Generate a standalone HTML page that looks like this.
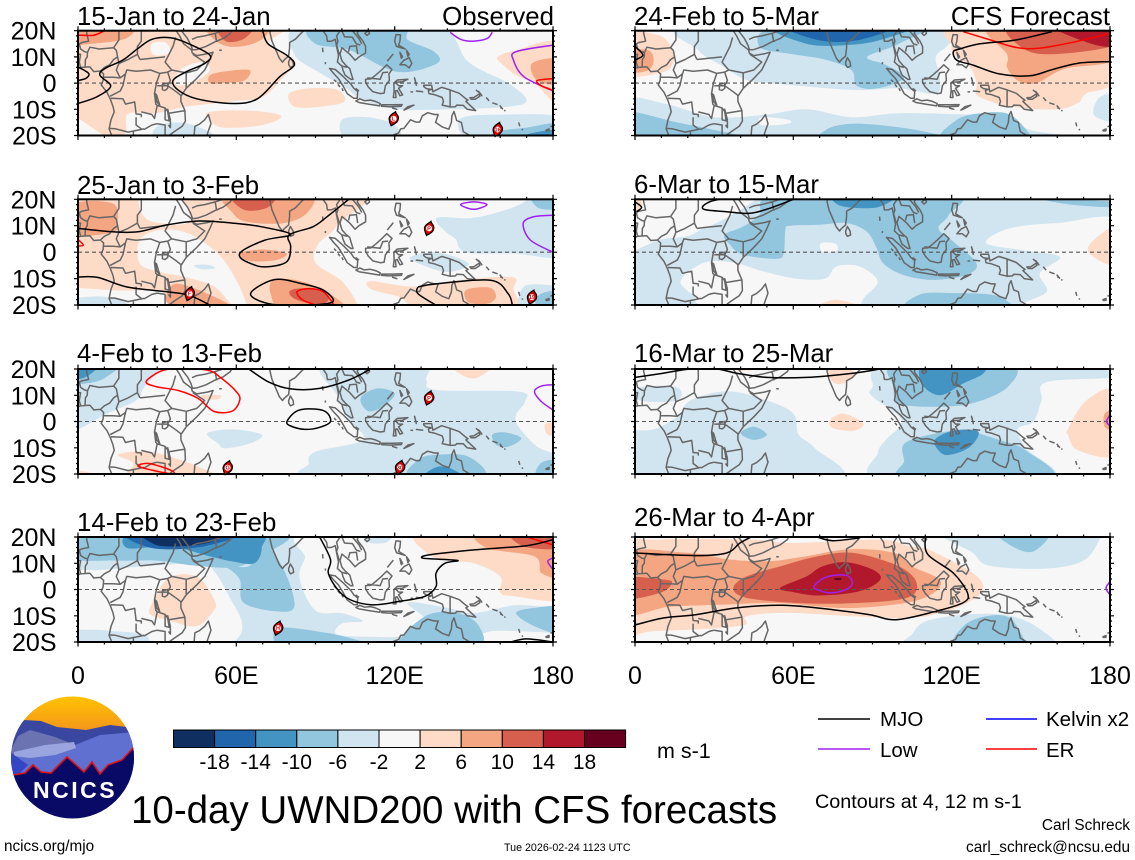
<!DOCTYPE html>
<html lang="en">
<head>
<meta charset="utf-8">
<title>10-day UWND200 with CFS forecasts</title>
<style>
html,body{margin:0;padding:0;background:#fff;}
svg{display:block;font-family:"Liberation Sans",sans-serif;}
</style>
</head>
<body>
<svg id="chart" xmlns="http://www.w3.org/2000/svg" width="1135" height="860" viewBox="0 0 1135 860">
  <rect width="1135" height="860" fill="#fff"/>
  <defs id="defs"></defs>
  <g id="panels"></g>
  <g font-size="25.8" fill="#000">
    <text x="77" y="25">15-Jan to 24-Jan</text>
    <text x="554" y="25" text-anchor="end">Observed</text>
    <text x="77" y="194">25-Jan to 3-Feb</text>
    <text x="77" y="362">4-Feb to 13-Feb</text>
    <text x="77" y="531">14-Feb to 23-Feb</text>
    <text x="634" y="25">24-Feb to 5-Mar</text>
    <text x="1110" y="25" text-anchor="end">CFS Forecast</text>
    <text x="634" y="193">6-Mar to 15-Mar</text>
    <text x="634" y="362">16-Mar to 25-Mar</text>
    <text x="634" y="526">26-Mar to 4-Apr</text>
  </g>

  <g>
    <defs>
      <clipPath id="logoClip"><ellipse cx="72.5" cy="757.5" rx="61.5" ry="61"/></clipPath>
      <linearGradient id="sky" x1="0" y1="0" x2="0" y2="1"><stop offset="0" stop-color="#ffc400"/><stop offset="1" stop-color="#f4941c"/></linearGradient>
    </defs>
    <g clip-path="url(#logoClip)">
      <rect x="10" y="696" width="125" height="36" fill="url(#sky)"/>
      <polygon points="10,735 24,720 41,721 57,727 86,730 110,725 135,728 135,790 10,790" fill="#3a47a0"/>
      <polygon points="10,752 18,736 30,730 55,737 75,745 65,755 10,760" fill="#6b74b0"/>
      <polygon points="75,745 100,735 135,732 135,760 60,760" fill="#6070d0"/>
      <polygon points="10,752 30,758 55,755 76,748 135,740 135,790 10,800" fill="#6070d0"/>
      <polygon points="14,752 45,745 74,742 76,748 55,755 30,758 14,756" fill="#9aa5e0"/>
      <polygon points="10,752 28,765 15,778 10,790" fill="#3347c4"/>
      <polygon points="10,775 25,773 33,765 41,772 51,773 67,757 84,772 92,762 100,774 108,765 122,760 135,746 135,820 10,820" fill="#080a66"/>
      <polyline points="13,775 25,773 33,765 41,772 51,773 67,757 84,772 92,762 100,774 108,765 122,760 134,747" fill="none" stroke="#e01010" stroke-width="1.6"/>
    </g>
    <text x="33" y="798" font-size="23" font-weight="bold" fill="#fff" letter-spacing="2.5">NCICS</text>
  </g>

  <g id="colorbar"></g>
  <text x="657" y="758" font-size="21.5">m s-1</text>

  <g font-size="20.5">
    <line x1="818" y1="719" x2="870" y2="719" stroke="#000" stroke-width="1.6"/>
    <text x="880" y="726">MJO</text>
    <line x1="986" y1="719" x2="1037" y2="719" stroke="#0000ff" stroke-width="1.6"/>
    <text x="1046" y="726">Kelvin x2</text>
    <line x1="818" y1="749" x2="870" y2="749" stroke="#a020f0" stroke-width="1.6"/>
    <text x="880" y="757">Low</text>
    <line x1="986" y1="749" x2="1037" y2="749" stroke="#ff0000" stroke-width="1.6"/>
    <text x="1046" y="757">ER</text>
  </g>

  <text x="131" y="823" font-size="38.5">10-day UWND200 with CFS forecasts</text>
  <text x="815" y="808" font-size="19.8">Contours at 4, 12 m s-1</text>
  <text x="1130" y="830" font-size="15.4" text-anchor="end">Carl Schreck</text>
  <text x="1130" y="852" font-size="15.35" text-anchor="end">carl_schreck@ncsu.edu</text>
  <text x="4" y="851" font-size="15.3">ncics.org/mjo</text>
  <text x="504" y="851" font-size="10.7">Tue 2026-02-24 1123 UTC</text>
</svg>

<script>
// ---------- colour scale ----------
const bandKeys = ['b5','b4','b3','b2','b1','w','r1','r2','r3','r4','r5'];
const bandColors = ['#0f2f60','#2166ac','#4393c3','#92c5de','#d1e5f0','#f7f7f7','#fddbc7','#f4a582','#d6604d','#b2182b','#67001f'];
const bandLabels = ['-18','-14','-10','-6','-2','2','6','10','14','18'];

// ---------- axis ticks ----------
const lonTicks = [0,60,120,180];
const lonTickLabels = ['0','60E','120E','180'];
const latTicks = [20,10,0,-10,-20];
const latTickLabels = ['20N','10N','0','10S','20S'];

// ---------- panel 1: 15-Jan to 24-Jan ----------
const p1Fills = [
 ['r1',[[-5,25],[76,25],[72,15],[79,10.7],[82,7],[78,2.4],[70,-5.3],[58.5,-7],[41,-9],[30,-11.4],[19,-11.7],[18,-19],[12,-21],[0,-13.6],[-5,-14]]],
 ['w',[[28,15],[33,15.5],[35,12],[31,10.5],[28,11.5]]],
 ['w',[[40,6],[47,8],[50,5],[45,1],[38,-1],[37,2]]],
 ['r2',[[49,22],[71,22],[70,17],[62,14],[54,15]]],
 ['r2',[[50,3],[56,4.5],[65,5],[63,1],[55,0],[50,0]]],
 ['r2',[[-3,22],[20,22],[18,17],[5,15],[-3,15]]],
 ['r3',[[53,22],[66,22],[63,17],[56,16]]],
 ['r1',[[80,-4],[88,-2],[98,-2.5],[101,-7],[92,-9],[82,-9]]],
 ['r1',[[50,-11],[65,-10.5],[77,-12.5],[70,-16],[55,-17],[50,-14]]],
 ['b1',[[85,22],[135,22],[148,8],[163,0],[170,-6.5],[163,-9],[141,-10],[122,-10],[108,-6.5],[101,-1.5],[92,3.7],[82,11]]],
 ['b2',[[89,22],[90,15],[103,12.6],[121,4.3],[136,7.5],[135,12],[125,16.5],[122,22]]],
 ['b1',[[100,-14],[110,-13],[120,-16],[121,-21],[102,-21]]],
 ['b1',[[145,-13.5],[163,-12],[182,-13],[182,-22],[150,-22]]],
 ['b2',[[159,-18.5],[170,-17],[182,-15.5],[182,-22],[156,-22]]],
 ['b3',[[169,-20],[175,-18.5],[182,-18],[182,-22],[168,-22]]],
 ['b1',[[31,-16],[42,-15.5],[52,-21],[30,-21]]],
 ['r1',[[159,10],[166,12.5],[182,15],[182,-7],[173,0],[166,3],[161,7]]],
 ['r2',[[172,7.5],[182,9],[182,0],[174,1]]]
];
const p1Mjo = [
 [[0,-7.8],[7,-5.3],[12.4,-1.2],[8.3,3],[10.3,5.6],[17,8.8],[22.7,13.2],[28,16.7],[35,17.3],[42,15],[50,10.7],[48,7.5],[41,4.3],[36,1],[38,-2.7],[45,-6],[58.5,-7.8],[68,-6],[76.4,2.4],[82,6.9],[79,10.7],[72,15],[70,20]],
 [[0,6.2],[4,3.7],[3,1.8],[0,1]]
];
const p1Low = [
 [[141,19.4],[145,16.7],[149.5,16],[155,17],[157,19.4]],
 [[180,14.5],[166,12],[165,8.8],[169,2.4],[180,-3]]
];
const p1Er = [
 [[180,1.7],[174,1],[175.5,-1],[180,-2.7]],
 [[0,18.3],[6,18.3],[10,20]]
];
const p1Storms = [[119.6,-13.6,'L'],[159,-17.7,'16']];

// ---------- panel 2: 25-Jan to 3-Feb ----------
const p2Fills = [
 ['r1',[[-5,25],[104,25],[98,10],[91,3],[90,-4],[100,-11],[106,-20],[106,-25],[-5,-25]]],
 ['w',[[24,21],[25,13.4],[32,10.9],[42,11.5],[38,21]]],
 ['w',[[23.4,4.6],[31,8.4],[42,7],[53,-0.5],[60,-10.6],[64,-20],[64,-22],[58.5,-20],[51.6,-13],[40.6,-9.4],[31,-7.5],[23.4,-4.3]]],
 ['w',[[-5,-14],[15,-14.5],[33,-15],[37,-21],[-5,-21]]],
 ['r1',[[111,-11],[127,-13],[145,-10.5],[164.6,-9.5],[165,-14],[164,-21],[130,-21],[122,-17],[111,-14]]],
 ['r2',[[-2,18],[13,18.5],[15,12],[13,7.5],[-2,7]]],
 ['r2',[[56,22],[87,22],[87,15],[78,11],[64,11.5],[58.5,15]]],
 ['r3',[[58,22],[74,22],[72,17],[63,16]]],
 ['r2',[[61,-0.5],[70,1],[79,-0.5],[75,-3],[65,-3.3]]],
 ['r2',[[74,-10.6],[83,-10.6],[93,-14.4],[101,-20],[100,-22],[78,-22],[73,-15.7]]],
 ['r3',[[80.6,-14.4],[89,-13.8],[95,-17],[91.6,-20],[82,-17.6]]],
 ['r2',[[35,-13.2],[40.6,-12.5],[56,-19],[56,-22],[35,-20]]],
 ['r2',[[147,-14.4],[156,-13.4],[158.4,-17],[155,-19.5],[148,-19]]],
 ['b1',[[136,13],[150,13],[165,17],[175,22],[185,22],[185,-0.5],[165,-0.5],[147,0],[143,5],[139,8]]],
 ['b1',[[126,-1.8],[136,0],[148,-4.3],[140,-7.5],[129,-4.3]]],
 ['b1',[[169,-13],[180,-12.5],[183,-13],[183,-22],[168,-22]]],
 ['b2',[[174,-21],[175,-16],[183,-15],[183,-22]]],
 ['b1',[[-3,-18],[9,-16.8],[18,-19],[18,-22],[-3,-22]]],
 ['b1',[[44,-5],[49,-4.8],[52,-6],[47,-6.5]]],
 ['b2',[[172,22],[174,17],[180,16],[185,16],[185,22]]]
];
const p2Mjo = [
 [[0,9],[13,7.7],[22.7,7.7],[33.7,10.3],[46,11.8],[58.5,11],[69.6,9.6],[80.6,6.7],[71,4.6],[62.7,0.8],[61.3,-1.8],[65.4,-4.3],[71,-5.6],[79,-3.7],[80.6,2],[80,6.5],[89,9.6],[94.4,13.4],[102.6,20]],
 [[0,-9.4],[7.6,-9.6],[18.6,-13.2],[33.7,-15],[42,-16.3],[50,-20]],
 [[65.4,-15.7],[74.4,-10.4],[84.7,-11.9],[93,-14.4],[96.4,-18.9],[84.7,-20.1],[72.3,-19.5],[65.4,-15.7]],
 [[128.8,-13.2],[135.7,-12],[156.3,-10.6],[163,-15.7],[164.6,-20.1]],
 [[135.7,-20.1],[128.8,-15.7],[128.8,-13.2]]
];
const p2Low = [
 [[145,18],[150,19],[155,18],[150,16.2],[145,18]],
 [[180,14],[172.8,13.4],[168.7,10.9],[171.4,4.6],[180,0]]
];
const p2Er = [
 [[97,-20],[93,-15],[87.5,-13.8],[83,-15],[85,-18],[90,-20]],
 [[0,4.8],[2,2.7],[0,2.3]]
];
const p2Storms = [[42.3,-15.7,'F'],[133,9,'P'],[172,-17,'19']];

// ---------- panel 3: 4-Feb to 13-Feb ----------
const p3Fills = [
 ['b1',[[-5,25],[32,25],[25,13],[22,8],[11,3],[0,-3],[-5,-3]]],
 ['b2',[[-5,25],[18,25],[10,16.5],[0,14],[-5,13]]],
 ['b3',[[-5,22],[7.5,22],[3,17],[-5,16]]],
 ['r1',[[47,10],[54,10],[53,8.5],[48,8.5]]],
 ['b1',[[93,22],[98.5,9.5],[102.6,0.6],[108,-7],[90,-11.5],[87.5,-16],[91.6,-21],[182,-21],[182,-13.4],[174,-9.6],[167,-2],[166,2.5],[169.4,7.6],[167,11.4],[135.7,12],[132,15.8],[130,22]]],
 ['r1',[[177,-1],[182,-1],[182,-5],[178,-5]]],
 ['b1',[[49,-4.5],[58.5,-3],[69.6,-5],[65.4,-8.3],[55.8,-10.2],[53,-8.3]]],
 ['b2',[[107.4,9.5],[113.6,12.6],[120,10.7],[116.4,6.3],[111,3.8],[108,5.7]]],
 ['b2',[[157,-5],[162,-4.2],[168,-6.4],[163,-9.6],[158.6,-9]]],
 ['b2',[[126,-21],[129,-14.6],[135.7,-12.7],[148,-13.4],[153.6,-21]]],
 ['b3',[[131.5,-21],[135.7,-17.4],[141,-17.8],[145,-21]]],
 ['b2',[[173.6,-21],[175.6,-15.7],[182,-15],[182,-21]]],
 ['r1',[[141,22],[157,22],[152,17],[147,17]]],
 ['r1',[[15,-12.7],[25,-11.3],[35,-13.4],[45,-17],[53,-22],[20,-22],[21,-16]]],
 ['r1',[[-3,-19],[4,-19.3],[5,-22],[-3,-22]]]
];
const p3Mjo = [
 [[64.7,20],[72.3,15],[80.6,12.4],[91.6,12.6],[102.6,15.8],[111,20]],
 [[79.2,0],[82.6,3.8],[87.5,4.8],[93.7,3.8],[95.7,0],[91.6,-2.2],[86,-3],[80.6,-1.7],[79.2,0]]
];
const p3Low = [
 [[180,14],[175.6,13.5],[173,11.4],[175.6,7.6],[180,4.4]]
];
const p3Er = [
 [[25.8,15.2],[31,19],[36.5,20],[49,19.6],[54.4,16.4],[60,11.4],[61.3,8.2],[58.5,4],[51.6,3.8],[45.5,8.8],[38,11.8],[29.6,13.3],[25.8,15.2]],
 [[22.7,-17],[26.9,-16],[35,-18.5],[35.8,-20],[28,-18.5],[22.7,-17]]
];
const p3Storms = [[56.7,-17.6,'G'],[122,-17.5,'30'],[133,9,'P']];

// ---------- panel 4: 14-Feb to 23-Feb ----------
const p4Fills = [
 ['b1',[[-8,25],[188,25],[188,-25],[-8,-25]]],
 ['w',[[-5,5.5],[10,7.5],[34,9.5],[48,9.5],[53,5],[58,-4],[62,-12],[61,-18],[54,-21],[30,-21],[25,-17],[10,-15.5],[-5,-13]]],
 ['w',[[90,22],[86,12],[84,4],[90,-8],[100,-9],[108,-12],[100,-13],[98,-17],[110,-18],[125,-17.5],[132,-12],[125,-5],[140,-7],[150,-9],[165,-6],[185,-4],[185,22]]],
 ['w',[[153.6,-21],[156,-16],[180,-16.5],[185,-17],[185,-21]]],
 ['b1',[[108,22],[119,22],[117,18],[110,18]]],
 ['r1',[[131,22],[132,14],[140,11],[150,10],[160,5],[160,-1],[165,-2.5],[185,-2.5],[185,22]]],
 ['r2',[[152,22],[155,15.8],[173,12.6],[175.6,6.3],[183,5.7],[183,22]]],
 ['r3',[[164,22],[169,16.4],[183,15.8],[183,22]]],
 ['r1',[[32.4,2.5],[38,5.7],[46,4.4],[51.6,-3.9],[51.6,-7.7],[44.8,-14],[33.7,-11.5],[27,-9],[29.6,-2.6]]],
 ['b2',[[-5,22],[75,22],[72,14],[68,12.5],[60,8.5],[45,9],[30,11],[15,11],[-5,12]]],
 ['b2',[[53,10],[65,9],[69.5,19],[78,7.5],[82,-6.4],[75,-8.3],[62.7,-5],[61.3,3.8],[55.8,8.8]]],
 ['b3',[[22.7,22],[66.8,22],[69.6,15.8],[66.8,10],[58.5,10.7],[50,12.6],[35,16.4],[18.6,15.8]]],
 ['b4',[[19,22],[61,22],[47.5,16.4],[28,15.8]]],
 ['b5',[[25.5,22],[55.8,22],[49,17.7],[35,16.4],[28,17.7]]],
 ['b2',[[76,-14.7],[94,-16.5],[108,-20],[108,-22],[78,-22]]],
 ['b2',[[122,-22],[131.5,-10.2],[144,-9],[152,-14],[151,-22]]],
 ['b2',[[166,-9],[173,-7],[183,-7],[183,-16.5],[173,-14]]]
];
const p4Mjo = [
 [[91.6,20],[95.7,11.4],[95,5.7],[101,-2.6],[110.9,-5.8],[122,-4.5],[131.5,-2.6],[135.7,1.2],[135.7,6.3],[139,10],[144,11],[135.7,11.6],[130.4,12],[133,13.2],[149,15],[170,16.7],[180,19]],
 [[164,-20],[170,-18.8],[180,-20]]
];
const p4Low = [
 [[180,12],[178,10.7],[180,7.6]]
];
const p4Er = [
 [[170,20],[180,17]]
];
const p4Storms = [[75.8,-14.7,'H']];

// ---------- panel 5: 24-Feb to 5-Mar ----------
const p5Fills = [
 ['b1',[[21.5,22],[24,12.6],[33.5,6.3],[42,1.3],[51,0],[82.7,-2.6],[100,-2],[114,-4],[115.5,2.5],[114,10],[119,15],[120.6,22]]],
 ['b1',[[-5,-6],[12,-8],[30,-13],[50,-12],[65,-10],[82,-13],[100,-11.5],[125,-12],[138,-13],[150,-18],[162,-22],[-5,-22]]],
 ['w',[[48,-13],[58,-14],[58,-15.5],[48,-16]]],
 ['b2',[[-5,-11],[16,-15],[44,-22],[-5,-22]]],
 ['b2',[[73,-17.5],[83,-15.5],[101,-17],[116,-20],[115,-22],[73,-22]]],
 ['b2',[[117,-22],[122,-14],[131,-11.5],[142,-12],[150,-20],[151,-22]]],
 ['b2',[[47,14],[60,11],[72,9],[82,5],[84,-1],[92,-2],[102,2],[95,7],[88,10],[100,15],[108,22],[55,22]]],
 ['b3',[[53,22],[65,15],[80,14.5],[93,16.5],[103,22]]],
 ['b4',[[58,22],[70,16.3],[85,16.5],[97,22]]],
 ['b1',[[173.6,-11],[176,-5.5],[182,-4.5],[182,-14],[176,-13.6]]],
 ['r1',[[-5,19],[8,18.5],[13,15],[14.5,8],[10,4],[-5,3.5]]],
 ['r2',[[-5,12],[5,12.5],[7,8],[4,4.5],[-5,4.5]]],
 ['r1',[[122,22],[120,14],[121,11],[127,6],[129.5,0],[130,-5],[143,-9],[160,-10],[168,-7.5],[171,-4],[182,1],[182,22]]],
 ['r2',[[135,22],[141,11],[141,6],[145,1],[152,0],[163,5.5],[182,9],[182,22]]],
 ['r3',[[143,22],[146,14],[157,11],[182,14.5],[182,22]]],
 ['r4',[[158,22],[173,15],[182,14.5],[182,22]]]
];
const p5Mjo = [
 [[158,19.6],[144,16.4],[130.7,15],[123,13],[120.6,11.9],[122,8.7],[128,6.9],[138,3.5],[149.6,2.8],[158,5.1],[168,7.6],[180,8.2]],
 [[0,14],[3,10.7],[0,8.8]]
];
const p5Low = [];
const p5Er = [
 [[124.4,19.6],[133,17],[144,13.7],[153,13.3],[167,15.8],[180,19]]
];
const p5Storms = [];

// ---------- panel 6: 6-Mar to 15-Mar ----------
const p6Fills = [
 ['b1',[[-8,25],[188,25],[188,-25],[-8,-25]]],
 ['w',[[-5,-0.5],[0.6,1],[9.5,4.7],[19.6,6],[26,9],[32,11.6],[40,16],[46,20],[48,22],[-5,22]]],
 ['w',[[17.7,-10],[21,-6.7],[28.4,-3.5],[38.5,-4.2],[48.6,-7.3],[61,-10],[72,-10],[76.4,-5.4],[85,-5.4],[92,-11],[87,-17],[85.7,-19.5],[85,-22],[30,-20.7],[22,-16.2],[17.7,-12.4]]],
 ['w',[[133,3.5],[142,9],[160,11],[185,11],[185,-21],[147,-21],[156,-15],[153.4,-8],[161,-1.8],[147,0.7]]],
 ['w',[[70.5,3.4],[76,3.2],[76.4,0.5],[71,0.2]]],
 ['b2',[[156,20],[182,19],[182,17],[165,18]]],
 ['r1',[[172,2.5],[182,9.5],[182,-4.3],[174,-2]]],
 ['r1',[[69.5,-21],[76,-18],[86,-21]]],
 ['r1',[[-3,20],[2,20],[2,16],[-3,15]]],
 ['b2',[[55,22],[119.7,22],[118.8,14],[115,9],[120.6,4],[129.4,-4.2],[125.6,-8.6],[113,-10.5],[101.6,-8.6],[94,-4.2],[91.6,1.5],[87.8,7.8],[80.2,11],[70,10.4],[58.7,10],[57,8.5],[56.4,0],[53.7,-2.5],[41,-1],[36,2.8],[34,6.6],[41,9.7],[47,14]]],
 ['b3',[[76,22],[78,17.5],[92,17],[98,22]]],
 ['b2',[[104,-22],[108,-16],[120.6,-15.5],[135.7,-16.2],[143,-20],[143,-22]]]
];
const p6Mjo = [
 [[60,20],[51,16.6],[43.5,14.7],[34.7,15.3],[27,16],[25.6,17.2],[28.2,19],[32,20]],
 [[0,19],[2.5,17],[0.6,15.3]]
];
const p6Low = [];
const p6Er = [];
const p6Storms = [];

// ---------- panel 7: 16-Mar to 25-Mar ----------
const p7Fills = [
 ['b1',[[2,13],[16,13],[16,8],[2,8]]],
 ['b1',[[21,8],[35,11.5],[50,8],[60,3],[62,-5],[68,-10],[76,-22],[5,-22],[-5,-16],[-5,-4.5],[7,-3],[16,1.8]]],
 ['b1',[[99,22],[90,13],[90,9.5],[101,0.6],[95,-7],[92,-12],[93,-22],[157,-22],[148,-10],[145,-3],[151,0],[154,8],[156,15],[182,17],[182,22]]],
 ['r1',[[164,-3],[171,8],[182,11.4],[182,-12],[168,-11],[164,-5]]],
 ['r2',[[178,3],[182,4],[182,-3],[178,-2]]],
 ['r1',[[74,0.6],[79,3],[86.5,-0.7],[83,-3.5],[75,-2.6]]],
 ['r1',[[72.5,22],[83,19],[80,15],[75,15]]],
 ['r1',[[37,21],[45,21],[45,19.6],[38,19.6]]],
 ['b2',[[40,-4.5],[45,-2],[50,-5],[45,-7]]],
 ['b2',[[99,22],[98,13.3],[100,7],[113,5.6],[128,7],[141.4,13.3],[141.4,22]]],
 ['b3',[[110,22],[108.6,14.5],[115.5,10],[124.4,14.5],[132,18.3],[131,22]]],
 ['b2',[[102,-8.5],[112,-5],[125,-3.5],[138,-7],[148,-11],[157,-22],[103,-22],[102,-15]]],
 ['b3',[[113.6,-7],[120.6,-3.5],[130,-3.8],[127,-9.6],[119.4,-12.7],[115.5,-11.5]]]
];
const p7Mjo = [
 [[0,16.8],[10.7,18.4],[20.8,20],[31,20],[38.5,18.4],[50,16.8],[65,16.8],[82.7,18.4],[92.8,20]]
];
const p7Low = [
 [[180,2.5],[178.7,0],[180,-1.7]]
];
const p7Er = [];
const p7Storms = [];

// ---------- panel 8: 26-Mar to 4-Apr ----------
const p8Fills = [
 ['r1',[[-5,15.8],[9.5,19],[45,19],[60,17.7],[92.8,19],[104,16.4],[111.7,15],[128,6.3],[132,0.5],[128,-3.9],[118,-8.3],[105,-10.8],[82.7,-10.2],[57.4,-8.9],[42.3,-10.2],[39.8,-13.9],[7,-15.9],[-5,-15.9]]],
 ['r2',[[-5,13.3],[19.5,14],[36,11.4],[51,10.8],[65,12.7],[81.5,15.3],[98,14],[105,8.8],[115.5,3.7],[113,-1.4],[102,-5.2],[80,-7.1],[55,-5.2],[32,-5.8],[13,-6.6],[-5,-8.9]]],
 ['r3',[[37.3,0.6],[42.3,5],[55,8.8],[69,12.6],[83,13.9],[100,8.8],[106.7,2.5],[103,-3.2],[82.7,-5.2],[62.5,-5.2],[42.3,-3.2]]],
 ['r3',[[-5,4.4],[10.7,3.8],[14,2.5],[9.5,-1.3],[-5,-3.6]]],
 ['r4',[[55,0.6],[65,5],[71,8.8],[80,10.4],[90,7.6],[93,3.8],[85,-0.7],[70,-2.3],[60,-1]]],
 ['r5',[[75.5,4.2],[78,4.4],[78,3.7],[76,3.6]]],
 ['b1',[[119,22],[128,14],[134.5,9],[156,8],[170,11],[176,19],[176,22]]],
 ['b2',[[137.6,22],[143,16.4],[151,14.5],[156.6,22]]],
 ['b1',[[105.5,-16.5],[110.5,-12],[124.4,-9.6],[139.5,-9.6],[149.6,-12.7],[159.7,-20],[159,-22],[105.5,-22]]],
 ['b2',[[122,-22],[124.4,-14],[133,-10.2],[142,-10.8],[148,-20],[149,-22]]]
];
const p8Mjo = [
 [[0,13.9],[23,12.9],[34.7,13.9],[39.8,17.7],[44,20]],
 [[69,20],[75,18.6],[85,19.6]],
 [[110,20],[111,13.3],[120.6,6.3],[126,-1.3],[124.4,-5],[114,-8.3],[99,-11.5],[89,-9.6],[75,-7.7],[56,-6],[38.5,-7],[23,-9.6],[11,-10.8],[0,-13.5]]
];
const p8Low = [
 [[68,1.5],[72.6,4.8],[80,5.4],[82.4,2.5],[80,0],[74,-1.3],[69,0],[68,1.5]],
 [[180,3],[178.5,0.5],[180,-2]]
];
const p8Er = [];
const p8Storms = [];

// ---------- coast lines and borders, [lon,lat] ----------
const coastClosed = [
 [[44,-20],[44.3,-16.5],[46,-15.7],[48,-14],[49.4,-12],[50.4,-15.5],[49.5,-18],[48.5,-21]],
 [[79.8,8],[80.5,9.7],[81.5,8],[81.7,6.5],[80.5,6],[79.9,7]],
 [[108.7,19],[110,20],[110.5,19],[109.5,18.2]],
 [[95.3,5.6],[97.5,5.2],[100.3,2.7],[103.5,-0.5],[104.5,-2],[106,-3.2],[105.8,-5.8],[104.5,-5.8],[102,-4],[100.4,-1],[98.7,1.7],[97,3.5]],
 [[105.3,-6.8],[106.8,-6],[108.5,-6.7],[110.8,-6.5],[112.7,-7],[114.5,-7.8],[114.3,-8.7],[110,-8],[106.5,-7.4]],
 [[115,-8.3],[116.5,-8.3],[119,-8.3],[122.8,-8.2],[122.5,-8.8],[118,-9],[115,-8.8]],
 [[123.5,-10.3],[125,-9],[127.3,-8.4],[125,-9.6]],
 [[119.2,-9.5],[120.8,-10],[120,-9.8]],
 [[109,1.5],[111,1.6],[113,3.2],[115,5],[117,7],[119,5.2],[117.8,3.5],[118,1],[116.5,-1],[116,-3.8],[114.5,-4],[111.7,-3.3],[110,-1.5],[109,0.3]],
 [[119.5,-5.5],[119.8,-3],[119.7,0],[121,1.2],[125,1.5],[123,0.5],[120.3,0.3],[121.5,-1],[123,-1],[121.5,-2],[123,-4.5],[122,-4.8],[121,-2.8],[120.3,-3],[120.5,-5.5]],
 [[120.5,18.5],[122.2,18.4],[122,16],[121.5,14.5],[124,13],[123,13.3],[120.7,14],[120,16]],
 [[122,7],[123.5,8.7],[125.5,9.7],[126.5,7.5],[125.5,5.8],[124,7]],
 [[122,11.8],[123,10],[122.5,9.5]],
 [[124.5,12.5],[125.5,11],[125,10.2]],
 [[127.5,2],[128,0],[128.2,-0.8],[127.8,1]],
 [[131,-0.8],[134,-0.8],[134.5,-3.3],[137.8,-1.6],[141,-2.6],[144.5,-3.9],[147,-6],[147.8,-6.5],[147,-7],[150.7,-10.5],[147.5,-10],[146,-8.5],[143.5,-8.4],[143,-9],[141,-9.1],[138,-8.4],[138.5,-7],[138,-5.5],[135,-4.4],[133,-4],[132.8,-2.8],[134,-2.4],[132,-2.1],[131,-1.3]],
 [[148.5,-5.6],[150,-5.5],[152,-4.2],[152.3,-5],[150.5,-6.2],[149,-6.2]],
 [[177.3,-18],[178.5,-17.5],[178.5,-18.2],[177.5,-18.3]],
 [[32,-0.5],[34,0],[34,-2],[33,-2.8],[32,-2.5]],
 [[29.2,-4],[29.8,-7],[31,-8.5],[30.5,-7],[29.8,-4.5]],
 [[34,-10],[35,-14],[34.5,-14],[34,-11]]
];
const coastOpen = [
 [[-5,4.8],[-2,4.8],[1,6],[4.5,6.2],[6,4.4],[8.5,4.6],[9.7,3.5],[9.5,1],[8.8,-0.7],[11,-3.5],[12.2,-6],[13.3,-9],[13.7,-11],[12.5,-14],[11.8,-17.5],[13,-20.5]],
 [[35,-24],[35,-21],[34.7,-19.8],[36.5,-18.5],[39.5,-16.5],[40.7,-14.5],[40.5,-10.5],[39,-7],[39,-5],[41,-2],[45,1.8],[48,5],[50,9],[51.2,11.8],[49,11.2],[45,10.5],[43.3,11.5],[43,12.7],[40,15],[38.5,18],[37.2,20],[37,22]],
 [[39,21],[39.2,20],[41.5,17],[42.8,14.5],[43.4,12.7],[45,12.8],[48.5,14],[52,15.8],[55,17],[57.7,19],[58.5,20.5],[59.5,22]],
 [[72.8,21],[72.8,19],[73.5,16],[74.8,13],[76.3,9.5],[77.5,8],[78.3,9],[79.8,10.3],[80.2,13.5],[80.2,15.5],[82.3,16.7],[85,19.5],[86.9,21],[88,22]],
 [[91.5,22.5],[92.5,20.5],[94.2,18],[94.5,16],[96,16],[97.5,16.7],[98,14],[98.7,10.5],[98.3,8],[100,6.5],[100.4,5],[101.2,3],[103.4,1.4],[104.2,1.4],[103.4,4],[103,5.5],[101.5,6.8],[100,8.5],[99.3,11],[100,13.5],[101,12.7],[103,11],[105,8.7],[106.5,10],[109,11.5],[109,14],[108,16],[106.5,18],[105.8,19],[106.7,21]],
 [[113,-22],[114,-21.9],[116.5,-20.7],[119,-20],[121.5,-19],[122.3,-17.5],[123.5,-17.3],[124.5,-16],[126,-14],[128,-14.9],[129.5,-14.9],[130.5,-12.5],[132.5,-11.3],[135,-12],[136.5,-12],[136,-13.5],[135.5,-15],[138,-16.7],[140.5,-17.6],[141.5,-15],[141.7,-12.5],[142.5,-10.8],[143.5,-14.3],[145.3,-15],[146,-18.5],[148.5,-20],[149.5,-22]],
 [[117.2,8.4],[119.5,11.2]],[[53.5,12.5],[54.5,12.5]],[[126,-3.3],[127,-3.4]],[[128,-3],[130.8,-3.3]],
 [[150.8,-2.6],[152.5,-4],[153,-4.8],[151.7,-3]],[[154.7,-5.5],[155.8,-6.8]],[[157,-7.5],[159,-8.2]],[[159.8,-8.5],[161,-10]],[[160,-9.4],[160.8,-9.6]],[[161.5,-10.4],[162,-10.6]],
 [[167,-15],[167.4,-16.5]],[[168.3,-17.5],[168.5,-18]],[[179,-16.6],[180,-16.4]],[[92.7,13.5],[92.8,11.8]],[[93.7,7.2],[93.8,8]],[[98.5,-0.5],[99.3,-1.5]],[[100,-2],[100.5,-3]],[[97,1.3],[97.9,0.5]],[[105.2,-2],[106.5,-3]]
];
const borders = [
 [[3.3,21],[3.3,19],[4,16],[1.5,15.5],[0.5,15],[1,13],[2.5,12],[3.6,11.7],[3.5,10],[2.8,9],[2.7,6.3]],
 [[-3,11],[0,11],[1,11],[0.5,8],[1,6]],
 [[3.6,11.7],[4.5,13.7],[8,13],[13.5,13.5]],
 [[13.5,13.5],[15.5,16.5],[15.5,23]],
 [[24,20],[24,16],[22.5,14],[22.5,11],[23.5,9]],
 [[22.5,11],[19,9],[15.5,7.5]],
 [[13.5,13.5],[14.5,12.5],[15,10],[13.5,9],[12,7],[10,6],[8.5,4.6]],
 [[15,10],[15.5,7.5],[14.5,5],[16,2]],
 [[9.8,2.2],[13.3,2.2],[16,2],[18,3.5],[18.5,5],[22,4.5],[27.5,5],[31,3.7],[34,4.2],[35.5,5]],
 [[18,3.5],[17,-1],[16,-3],[12.2,-5]],
 [[12.5,-5.8],[17,-6],[18,-8],[21.5,-7.2],[22,-11.8],[24,-12],[24,-13]],
 [[22,-13],[22,-16],[24,-17.5]],
 [[11.8,-17.3],[14,-17.4],[19,-18.7],[25,-17.5]],
 [[24,-11],[28,-12],[29,-13.5],[30,-8.5]],
 [[31,3.7],[29.7,0],[29,-4],[29.5,-8],[30,-8.5]],
 [[34,4.2],[35,1],[34,-1],[30,-1]],
 [[34,-1],[37.5,-3.5],[39,-4.7]],
 [[41,-1.7],[41,3.9]],
 [[35.5,5],[41,3.9]],
 [[41,3.9],[45,5],[48,8],[43.5,11]],
 [[35.5,5],[33,8],[34.5,11],[36,14],[37,17.5]],
 [[23.5,9],[28,9.5],[33,10]],
 [[30,-8.5],[33,-9.5],[34.5,-11.5],[40.5,-10.5]],
 [[33,-9.5],[33,-14],[35,-14.5],[35,-17],[34.3,-16]],
 [[30,-15.5],[33,-16],[33,-20],[32,-21]],
 [[25,-17.7],[28,-16],[30,-15.5]],
 [[21,-18],[21,-21]],
 [[52,19],[52.5,16],[53,16]],
 [[55,20],[52,19],[48,18],[45,17.5],[43.2,16.7]],
 [[100,21],[98,18],[98.5,16],[98,14.5],[99,11]],
 [[100,20],[101,17.7],[104,17.5],[105.5,15],[107,14.5]],
 [[102.5,12],[103,14],[105.5,14.2],[106,11]],
 [[104,20],[106.5,17],[107.5,15]],
 [[100.2,6.5],[102,6]],
 [[109.6,2],[114.5,1.5],[115.5,4],[117.5,4.2]],
 [[141,-2.6],[141,-9.1]]
];

// ---------- panel layout ----------
const panelLayouts = [
 {x:78, top:30.7, h:104.8}, {x:78, top:199.3, h:105.7}, {x:78, top:369, h:105}, {x:78, top:537, h:105},
 {x:635, top:30.7, h:104.8}, {x:635, top:199.3, h:105.7}, {x:635, top:369, h:105}, {x:635, top:537, h:105}
];
const panelFills = [p1Fills,p2Fills,p3Fills,p4Fills,p5Fills,p6Fills,p7Fills,p8Fills];
const panelMjo = [p1Mjo,p2Mjo,p3Mjo,p4Mjo,p5Mjo,p6Mjo,p7Mjo,p8Mjo];
const panelLow = [p1Low,p2Low,p3Low,p4Low,p5Low,p6Low,p7Low,p8Low];
const panelEr = [p1Er,p2Er,p3Er,p4Er,p5Er,p6Er,p7Er,p8Er];
const panelStorms = [p1Storms,p2Storms,p3Storms,p4Storms,p5Storms,p6Storms,p7Storms,p8Storms];

const NS = 'http://www.w3.org/2000/svg';
const PANEL_W = 475;
function mk(tag, parent){ const e = document.createElementNS(NS, tag); parent.appendChild(e); return e; }

function smoothPath(px, closed){
  const n = px.length;
  if(n < 2) return '';
  let d = 'M' + px[0][0].toFixed(1) + ',' + px[0][1].toFixed(1);
  const get = i => closed ? px[(i + n) % n] : px[Math.max(0, Math.min(n - 1, i))];
  const segs = closed ? n : n - 1;
  for(let i = 0; i < segs; i++){
    const p0 = get(i - 1), p1 = get(i), p2 = get(i + 1), p3 = get(i + 2);
    const c1x = p1[0] + (p2[0] - p0[0]) / 6, c1y = p1[1] + (p2[1] - p0[1]) / 6;
    const c2x = p2[0] - (p3[0] - p1[0]) / 6, c2y = p2[1] - (p3[1] - p1[1]) / 6;
    d += 'C' + c1x.toFixed(1) + ',' + c1y.toFixed(1) + ' ' + c2x.toFixed(1) + ',' + c2y.toFixed(1) + ' ' + p2[0].toFixed(1) + ',' + p2[1].toFixed(1);
  }
  return d + (closed ? 'Z' : '');
}
function linePath(px, closed){
  return px.map((p, i) => (i ? 'L' : 'M') + p[0].toFixed(1) + ',' + p[1].toFixed(1)).join('') + (closed ? 'Z' : '');
}

const panelsRoot = document.getElementById('panels');
const defsRoot = document.getElementById('defs');

panelLayouts.forEach((L, idx) => {
  const xs = lon => L.x + lon / 180 * PANEL_W;
  const ys = lat => L.top + (20 - lat) / 40 * L.h;
  const proj = pts => pts.map(p => [xs(p[0]), ys(p[1])]);

  const clip = mk('clipPath', defsRoot);
  clip.setAttribute('id', 'clip' + idx);
  const cr = mk('rect', clip);
  cr.setAttribute('x', L.x); cr.setAttribute('y', L.top); cr.setAttribute('width', PANEL_W); cr.setAttribute('height', L.h);

  const g = mk('g', panelsRoot);
  
  

  const inner = mk('g', g);
  inner.setAttribute('clip-path', 'url(#clip' + idx + ')');
  
  

  const bg = mk('rect', inner);
  
  
  bg.setAttribute('x', L.x); bg.setAttribute('y', L.top); bg.setAttribute('width', PANEL_W); bg.setAttribute('height', L.h);
  bg.setAttribute('fill', bandColors[5]);

  panelFills[idx].forEach(f => {
    const el = mk('path', inner);
    
    
    el.setAttribute('d', smoothPath(proj(f[1]), true));
    el.setAttribute('fill', bandColors[bandKeys.indexOf(f[0])]);
  });

  const coastD = coastClosed.map(c => linePath(proj(c), true)).join('') +
                 coastOpen.map(c => linePath(proj(c), false)).join('') +
                 borders.map(c => linePath(proj(c), false)).join('');
  const coast = mk('path', inner);
  
  
  coast.setAttribute('d', coastD);
  coast.setAttribute('fill', 'none');
  coast.setAttribute('stroke', '#666');
  coast.setAttribute('stroke-width', '1.5');
  coast.setAttribute('stroke-linejoin', 'round');

  const eq = mk('line', inner);
  
  
  eq.setAttribute('x1', xs(0)); eq.setAttribute('x2', xs(180));
  eq.setAttribute('y1', ys(0)); eq.setAttribute('y2', ys(0));
  eq.setAttribute('stroke', '#555');
  eq.setAttribute('stroke-width', '1.1');
  eq.setAttribute('stroke-dasharray', '4 3');

  const drawContours = (list, color, name) => list.forEach(pts => {
    const closed = pts[0][0] === pts[pts.length - 1][0] && pts[0][1] === pts[pts.length - 1][1];
    const use = closed ? pts.slice(0, -1) : pts;
    const el = mk('path', inner);
    
    
    el.setAttribute('d', smoothPath(proj(use), closed));
    el.setAttribute('fill', 'none');
    el.setAttribute('stroke', color);
    el.setAttribute('stroke-width', '1.5');
  });
  drawContours(panelLow[idx], '#a020f0', 'low-contour');
  drawContours(panelEr[idx], '#ff0000', 'er-contour');
  drawContours(panelMjo[idx], '#000000', 'mjo-contour');

  const frame = mk('rect', g);
  
  
  frame.setAttribute('x', L.x); frame.setAttribute('y', L.top); frame.setAttribute('width', PANEL_W); frame.setAttribute('height', L.h);
  frame.setAttribute('fill', 'none');
  frame.setAttribute('stroke', '#000');
  frame.setAttribute('stroke-width', '2');

  let tickD = '';
  for(let lon = 0; lon <= 180; lon += 10){
    const major = lonTicks.indexOf(lon) >= 0;
    const len = major ? 4.5 : 2.5;
    const x = xs(lon).toFixed(1);
    tickD += 'M' + x + ',' + (L.top + L.h) + 'v' + len + 'M' + x + ',' + L.top + 'v-' + len;
  }
  for(let lat = -20; lat <= 20; lat += 2){
    const major = lat % 10 === 0;
    const len = major ? 4 : 2;
    const y = ys(lat).toFixed(1);
    tickD += 'M' + L.x + ',' + y + 'h-' + len + 'M' + (L.x + PANEL_W) + ',' + y + 'h' + len;
  }
  const ticks = mk('path', g);
  
  
  ticks.setAttribute('d', tickD);
  ticks.setAttribute('stroke', '#000');
  ticks.setAttribute('stroke-width', '1.2');
  ticks.setAttribute('fill', 'none');

  if(idx < 4){
    latTicks.forEach((lat, i) => {
      const t = mk('text', g);
      
      
      t.setAttribute('x', 56.5);
      t.setAttribute('y', ys(lat) + 9);
      t.setAttribute('text-anchor', 'end');
      t.setAttribute('font-size', '25');
      t.textContent = latTickLabels[i];
    });
  }
  if(idx === 3 || idx === 7){
    lonTicks.forEach((lon, i) => {
      const t = mk('text', g);
      
      
      t.setAttribute('x', xs(lon));
      t.setAttribute('y', 684);
      t.setAttribute('text-anchor', 'middle');
      t.setAttribute('font-size', '25');
      t.textContent = lonTickLabels[i];
    });
  }

  panelStorms[idx].forEach(s => {
    const sg = mk('g', g);
    
    
    sg.setAttribute('transform', 'translate(' + xs(s[0]).toFixed(1) + ',' + ys(s[1]).toFixed(1) + ')');
    const b = mk('path', sg);
    b.setAttribute('d', 'M-4.5,0C-4.5,-3 -1,-5 2,-7C2,-5.5 3.5,-4.5 4.5,-2.5C5.5,0 4.5,3 1,5C0,6 -2,6.5 -2.5,7C-3,5.5 -4.5,3 -4.5,0Z');
    b.setAttribute('fill', '#e00000');
    b.setAttribute('stroke', '#000');
    b.setAttribute('stroke-width', '1.2');
    const disc = mk('circle', sg);
    disc.setAttribute('r', '3');
    disc.setAttribute('fill', '#fff');
    const st = mk('text', sg);
    st.setAttribute('x', 0);
    st.setAttribute('y', 2);
    st.setAttribute('text-anchor', 'middle');
    st.setAttribute('font-size', '5.5');
    st.setAttribute('font-weight', 'bold');
    st.setAttribute('fill', '#c00000');
    st.textContent = s[2];
  });
});

// ---------- colour bar ----------
const cbRoot = document.getElementById('colorbar');
const CB_X = 173.5, CB_Y = 730, CB_W = 41.1, CB_H = 17.5;
bandColors.forEach((c, i) => {
  const r = mk('rect', cbRoot);
  
  
  r.setAttribute('x', CB_X + i * CB_W);
  r.setAttribute('y', CB_Y);
  r.setAttribute('width', CB_W);
  r.setAttribute('height', CB_H);
  r.setAttribute('fill', c);
  r.setAttribute('stroke', '#000');
  r.setAttribute('stroke-width', '1');
});
bandLabels.forEach((lab, i) => {
  const t = mk('text', cbRoot);
  
  
  t.setAttribute('x', CB_X + (i + 1) * CB_W);
  t.setAttribute('y', 769);
  t.setAttribute('text-anchor', 'middle');
  t.setAttribute('font-size', '21');
  t.textContent = lab;
});
</script>
</body>
</html>
